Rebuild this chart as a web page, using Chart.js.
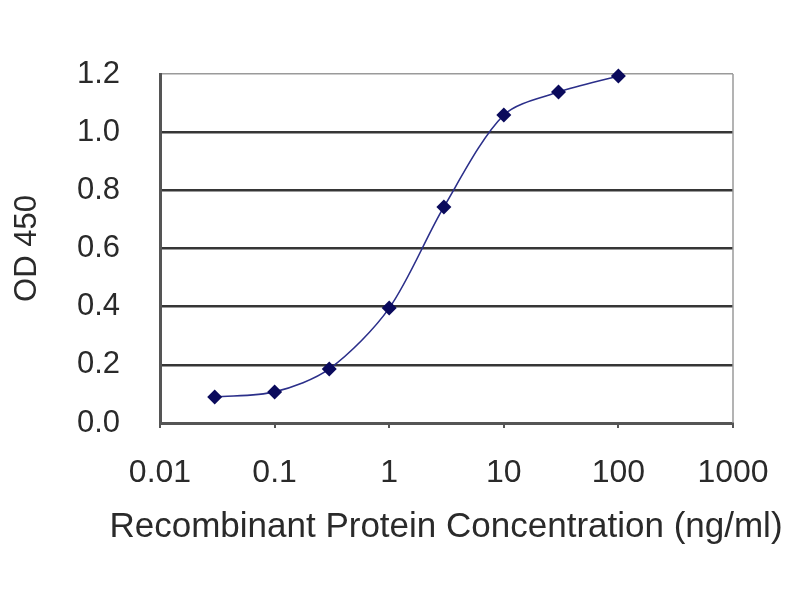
<!DOCTYPE html>
<html>
<head>
<meta charset="utf-8">
<script src="https://cdn.jsdelivr.net/npm/chart.js@4"></script>
<style>
	html, body { margin: 0; padding: 0; background: #fff; }
	#wrap { width: 800px; height: 600px; }
</style>
</head>
<body>
<div id="wrap"><canvas id="chart" width="800" height="600"></canvas></div>
<script>
// concentration (ng/ml) and the OD 450 read for it
const concentrations = [0.03, 0.1, 0.3, 1, 3, 10, 30, 100];
const odValues = [0.089, 0.107, 0.186, 0.395, 0.743, 1.059, 1.138, 1.193];
const xTickValues = [0.01, 0.1, 1, 10, 100, 1000];
const yTickValues = [0, 0.2, 0.4, 0.6, 0.8, 1.0, 1.2];
const xTitle = "Recombinant Protein Concentration (ng/ml)";

const FONT = "'Liberation Sans', Arial, sans-serif";
const INK = "#2a2a2a";

// grey right edge of the plot box, and the x title which in the original
// runs wider than the plot itself (the scale title would get squeezed)
const extras = {
	id: "extras",
	afterDraw(chart){
		const {ctx, chartArea} = chart;
		ctx.save();
		ctx.strokeStyle = "#9a9a9a";
		ctx.lineWidth = 1.5;
		ctx.beginPath();
		ctx.moveTo(chartArea.right, chartArea.top);
		ctx.lineTo(chartArea.right, chartArea.bottom);
		ctx.stroke();

		ctx.fillStyle = INK;
		ctx.font = "35px " + FONT;
		ctx.textAlign = "center";
		ctx.textBaseline = "middle";
		ctx.fillText(xTitle, chart.width / 2 + 46, chartArea.bottom + 104);
		ctx.restore();
	}
};

new Chart(document.querySelector("#chart"), {
	type: "line",
	data: {
		datasets: [{
			data: concentrations.map((c, i) => ({x: c, y: odValues[i]})),
			borderColor: "#2b2f8a",
			borderWidth: 1.6,
			backgroundColor: "#0a0a5c",
			pointStyle: "rectRot",
			pointRadius: 7.5,
			pointBorderWidth: 0,
			tension: 0.3,
			fill: false,
			clip: false,
		}]
	},
	options: {
		responsive: false,
		animation: false,
		plugins: { legend: { display: false }, tooltip: { enabled: false } },
		layout: { padding: { top: 74, right: 67, left: 0, bottom: 0 } },
		scales: {
			x: {
				type: "logarithmic",
				min: 0.01,
				max: 1000,
				afterBuildTicks: scale => { scale.ticks = xTickValues.map(v => ({value: v})); },
				afterFit: scale => { scale.height = 177; },
				border: { color: "#555", width: 3 },
				grid: {
					drawOnChartArea: false,
					drawTicks: true,
					tickLength: 5,
					tickColor: "#555",
					lineWidth: 2,
				},
				ticks: {
					padding: 26,
					color: INK,
					font: { family: FONT, size: 32 },
					maxRotation: 0,
					autoSkip: false,
					callback: v => String(v),
				},
				title: { display: false },
			},
			y: {
				min: 0,
				max: 1.2,
				afterBuildTicks: scale => { scale.ticks = yTickValues.map(v => ({value: v})); },
				afterFit: scale => { scale.width = 160; },
				border: { color: "#555", width: 3 },
				grid: {
					drawTicks: false,
					color: ctx => ctx.tick && ctx.tick.value >= 1.2 ? "#9a9a9a" : "#363636",
					lineWidth: ctx => ctx.tick && ctx.tick.value >= 1.2 ? 1.5 : 2.5,
				},
				ticks: {
					padding: 40,
					color: INK,
					font: { family: FONT, size: 31 },
					callback: v => v.toFixed(1),
				},
				title: {
					display: true,
					text: "OD 450",
					color: INK,
					font: { family: FONT, size: 31 },
					padding: { top: 9, bottom: 0 },
				},
			},
		},
	},
	plugins: [extras],
});
</script>
</body>
</html>
